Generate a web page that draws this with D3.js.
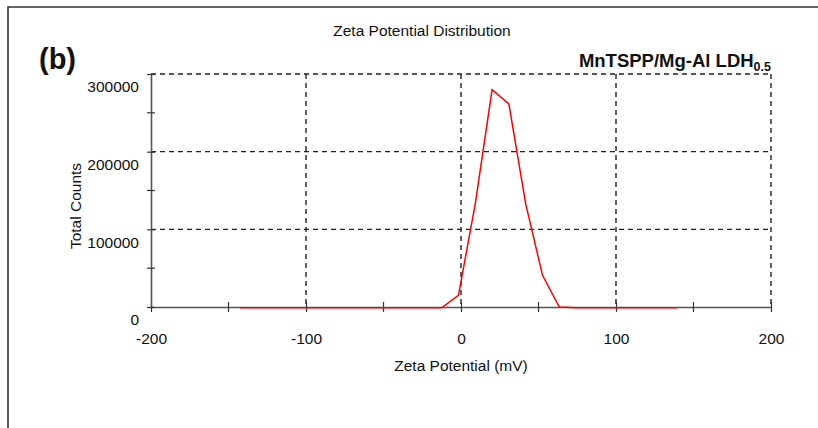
<!DOCTYPE html>
<html>
<head>
<meta charset="utf-8">
<script src="https://cdn.jsdelivr.net/npm/d3@7"></script>
<style>
  html, body { margin: 0; padding: 0; background: #fff; }
  svg { display: block; font-family: "Liberation Sans", Arial, sans-serif; }
</style>
</head>
<body>
<svg id="chart" width="818" height="428"></svg>
<script>
// Zeta potential distribution (mV vs total counts)
const zeta = [-142.7, -131.85, -121.0, -110.15, -99.3, -88.45, -77.6, -66.75, -55.9, -45.05,
              -34.2, -23.35, -12.5, -1.65, 9.2, 20.05, 30.9, 41.75, 52.6, 63.45,
              74.3, 85.15, 96.0, 106.85, 117.7, 128.55, 139.4];
const counts = [0, 0, 0, 0, 0, 0, 0, 0, 0, 0,
                0, 0, 0, 16000, 133900, 280700, 262400, 133900, 41800, 1000,
                0, 0, 0, 0, 0, 0, 0];
const xMajorTicks = [-200, -100, 0, 100, 200];
const xMinorTicks = [-150, -50, 50, 150];
const yMajorTicks = [0, 100000, 200000, 300000];
const yMinorTicks = [50000, 150000, 250000];
const xGrid = [-100, 0, 100, 200];
const yGrid = [100000, 200000, 300000];

const svg = d3.select("#chart");
const plotL = 151, plotR = 771, plotT = 74, plotB = 307;

const x = d3.scaleLinear().domain([-200, 200]).range([plotL, plotR]);
const y = d3.scaleLinear().domain([0, 300000]).range([plotB, plotT]);
const plain = d => String(d);   // hyphen-minus, no grouping

// outer frame (top and left edges)
svg.append("path")
  .attr("d", `M8,428 L8,7 L818,7`)
  .attr("fill", "none").attr("stroke", "#333").attr("stroke-width", 1.6);

// titles
svg.append("text").attr("x", 422).attr("y", 36).attr("text-anchor", "middle")
  .attr("font-size", 15.5).attr("fill", "#111").text("Zeta Potential Distribution");
svg.append("text").attr("x", 39).attr("y", 69)
  .attr("font-size", 29).attr("font-weight", "bold").attr("fill", "#111").text("(b)");
const lab = svg.append("text").attr("x", 771).attr("y", 67).attr("text-anchor", "end")
  .attr("font-size", 18.5).attr("font-weight", "bold").attr("fill", "#111");
lab.append("tspan").text("MnTSPP/Mg-Al LDH");
lab.append("tspan").attr("font-size", 12.5).attr("dy", 4).text("0.5");

// dashed grid
const grid = svg.append("g").attr("stroke", "#222").attr("stroke-width", 1.4)
  .attr("stroke-dasharray", "5,4");
grid.selectAll("line.v").data(xGrid).join("line").attr("class", "v")
  .attr("x1", d => x(d)).attr("x2", d => x(d)).attr("y1", plotT).attr("y2", plotB);
grid.selectAll("line.h").data(yGrid).join("line").attr("class", "h")
  .attr("x1", plotL).attr("x2", plotR).attr("y1", d => y(d)).attr("y2", d => y(d));

// x axis
const xAxis = svg.append("g").attr("transform", `translate(0,${plotB})`)
  .call(d3.axisBottom(x).tickValues(xMajorTicks).tickSize(5).tickSizeOuter(0).tickPadding(21)
    .tickFormat(plain));
xAxis.select(".domain").attr("stroke", "#555").attr("stroke-width", 1.6);
xAxis.selectAll(".tick line").attr("y1", -5).attr("stroke", "#333").attr("stroke-width", 1.2);
xAxis.selectAll(".tick text").attr("font-size", 15.5).attr("fill", "#111")
  .attr("font-family", "Liberation Sans, Arial, sans-serif");
xAxis.selectAll("line.minor").data(xMinorTicks).join("line").attr("class", "minor")
  .attr("x1", d => x(d)).attr("x2", d => x(d)).attr("y1", -5).attr("y2", 5)
  .attr("stroke", "#333").attr("stroke-width", 1.2);

// y axis (labels sit a little below their grid lines)
const yAxis = svg.append("g").attr("transform", `translate(${plotL},0)`)
  .call(d3.axisLeft(y).tickValues(yMajorTicks).tickSize(4).tickSizeOuter(0).tickPadding(8)
    .tickFormat(plain));
yAxis.select(".domain").attr("stroke", "#555").attr("stroke-width", 1.6);
yAxis.selectAll(".tick line").attr("x2", 4).attr("x1", -4).attr("stroke", "#333").attr("stroke-width", 1.2);
yAxis.selectAll(".tick text").attr("font-size", 15.5).attr("fill", "#111")
  .attr("transform", "translate(0,13)")
  .attr("font-family", "Liberation Sans, Arial, sans-serif");
yAxis.selectAll("line.minor").data(yMinorTicks).join("line").attr("class", "minor")
  .attr("x1", -4).attr("x2", 4).attr("y1", d => y(d)).attr("y2", d => y(d))
  .attr("stroke", "#333").attr("stroke-width", 1.2);

// axis titles
svg.append("text").attr("x", 461).attr("y", 371).attr("text-anchor", "middle")
  .attr("font-size", 15.5).attr("fill", "#111").text("Zeta Potential (mV)");
svg.append("text").attr("transform", "translate(81,206) rotate(-90)").attr("text-anchor", "middle")
  .attr("font-size", 15.5).attr("fill", "#111").text("Total Counts");

// distribution curve
const line = d3.line().x((d, i) => x(zeta[i])).y(d => y(d) + 0.8);
svg.append("path").datum(counts).attr("d", line)
  .attr("fill", "none").attr("stroke", "#ff0000").attr("stroke-width", 1.5);
</script>
</body>
</html>
